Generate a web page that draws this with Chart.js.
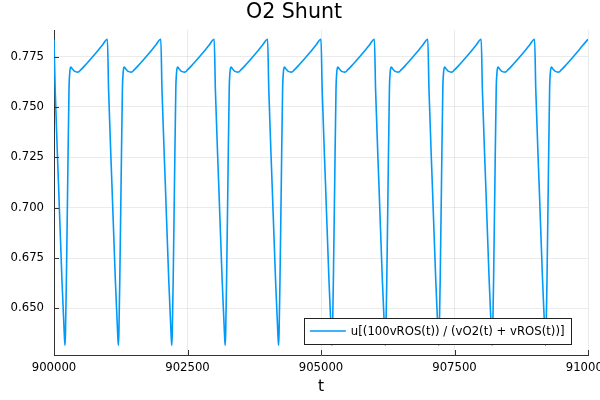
<!DOCTYPE html>
<html lang="en">
<head>
  <meta charset="UTF-8">
  <title>O2 Shunt</title>
  <script src="https://cdn.jsdelivr.net/npm/chart.js"></script>
  <style>
    body {
      margin: 0;
      background-color: #fff;
    }
    #wrap {
      width: 600px;
      height: 400px;
    }
  </style>
</head>
<body>
  <div id="wrap"><canvas id="shuntChart" width="600" height="400"></canvas></div>

  <script>
    // values
    const seriesLabel = 'u[(100vROS(t)) / (vO2(t) + vROS(t))]';

    const tValues = [
      900000, 900022, 900085, 900149, 900180, 900195, 900206, 900215, 900232, 900256, 900281, 900295, 900313, 900340, 900380, 900449, 900500, 900600, 900700, 900800, 900900,
      901000, 901022, 901085, 901149, 901180, 901195, 901206, 901215, 901232, 901256, 901281, 901295, 901313, 901340, 901380, 901449, 901500, 901600, 901700, 901800, 901900,
      902000, 902022, 902085, 902149, 902180, 902195, 902206, 902215, 902232, 902256, 902281, 902295, 902313, 902340, 902380, 902449, 902500, 902600, 902700, 902800, 902900,
      903000, 903022, 903085, 903149, 903180, 903195, 903206, 903215, 903232, 903256, 903281, 903295, 903313, 903340, 903380, 903449, 903500, 903600, 903700, 903800, 903900,
      904000, 904022, 904085, 904149, 904180, 904195, 904206, 904215, 904232, 904256, 904281, 904295, 904313, 904340, 904380, 904449, 904500, 904600, 904700, 904800, 904900,
      905000, 905022, 905085, 905149, 905180, 905195, 905206, 905215, 905232, 905256, 905281, 905295, 905313, 905340, 905380, 905449, 905500, 905600, 905700, 905800, 905900,
      906000, 906022, 906085, 906149, 906180, 906195, 906206, 906215, 906232, 906256, 906281, 906295, 906313, 906340, 906380, 906449, 906500, 906600, 906700, 906800, 906900,
      907000, 907022, 907085, 907149, 907180, 907195, 907206, 907215, 907232, 907256, 907281, 907295, 907313, 907340, 907380, 907449, 907500, 907600, 907700, 907800, 907900,
      908000, 908022, 908085, 908149, 908180, 908195, 908206, 908215, 908232, 908256, 908281, 908295, 908313, 908340, 908380, 908449, 908500, 908600, 908700, 908800, 908900,
      909000, 909022, 909085, 909149, 909180, 909195, 909206, 909215, 909232, 909256, 909281, 909295, 909313, 909340, 909380, 909449, 909500, 909600, 909700, 909800, 909900,
      910000
    ];

    const shuntValues = [
      0.7836, 0.7587, 0.7114, 0.6641, 0.6450, 0.6360, 0.6317, 0.6380, 0.6641, 0.7114, 0.7587, 0.7670, 0.7698, 0.7690, 0.7678, 0.7673, 0.7684, 0.7712, 0.7742, 0.7773, 0.7805,
      0.7836, 0.7587, 0.7114, 0.6641, 0.6450, 0.6360, 0.6317, 0.6380, 0.6641, 0.7114, 0.7587, 0.7670, 0.7698, 0.7690, 0.7678, 0.7673, 0.7684, 0.7712, 0.7742, 0.7773, 0.7805,
      0.7836, 0.7587, 0.7114, 0.6641, 0.6450, 0.6360, 0.6317, 0.6380, 0.6641, 0.7114, 0.7587, 0.7670, 0.7698, 0.7690, 0.7678, 0.7673, 0.7684, 0.7712, 0.7742, 0.7773, 0.7805,
      0.7836, 0.7587, 0.7114, 0.6641, 0.6450, 0.6360, 0.6317, 0.6380, 0.6641, 0.7114, 0.7587, 0.7670, 0.7698, 0.7690, 0.7678, 0.7673, 0.7684, 0.7712, 0.7742, 0.7773, 0.7805,
      0.7836, 0.7587, 0.7114, 0.6641, 0.6450, 0.6360, 0.6317, 0.6380, 0.6641, 0.7114, 0.7587, 0.7670, 0.7698, 0.7690, 0.7678, 0.7673, 0.7684, 0.7712, 0.7742, 0.7773, 0.7805,
      0.7836, 0.7587, 0.7114, 0.6641, 0.6450, 0.6360, 0.6317, 0.6380, 0.6641, 0.7114, 0.7587, 0.7670, 0.7698, 0.7690, 0.7678, 0.7673, 0.7684, 0.7712, 0.7742, 0.7773, 0.7805,
      0.7836, 0.7587, 0.7114, 0.6641, 0.6450, 0.6360, 0.6317, 0.6380, 0.6641, 0.7114, 0.7587, 0.7670, 0.7698, 0.7690, 0.7678, 0.7673, 0.7684, 0.7712, 0.7742, 0.7773, 0.7805,
      0.7836, 0.7587, 0.7114, 0.6641, 0.6450, 0.6360, 0.6317, 0.6380, 0.6641, 0.7114, 0.7587, 0.7670, 0.7698, 0.7690, 0.7678, 0.7673, 0.7684, 0.7712, 0.7742, 0.7773, 0.7805,
      0.7836, 0.7587, 0.7114, 0.6641, 0.6450, 0.6360, 0.6317, 0.6380, 0.6641, 0.7114, 0.7587, 0.7670, 0.7698, 0.7690, 0.7678, 0.7673, 0.7684, 0.7712, 0.7742, 0.7773, 0.7805,
      0.7836, 0.7587, 0.7114, 0.6641, 0.6450, 0.6360, 0.6317, 0.6380, 0.6641, 0.7114, 0.7587, 0.7670, 0.7698, 0.7690, 0.7678, 0.7673, 0.7684, 0.7712, 0.7742, 0.7773, 0.7805,
      0.7836
    ];

    const xTicks = [900000, 902500, 905000, 907500, 910000];
    const yTicks = [0.650, 0.675, 0.700, 0.725, 0.750, 0.775];

    const lineColor = '#009af9';
    const axisColor = '#333';
    const smallFont = { family: 'DejaVu Sans', size: 11.7 };

    // short tick marks pointing into the plot, like the original
    const innerTicks = {
      id: 'innerTicks',
      afterDraw(chart) {
        const { ctx, chartArea, scales } = chart;
        ctx.save();
        ctx.strokeStyle = axisColor;
        ctx.lineWidth = 1;
        ctx.beginPath();
        scales.y.ticks.forEach(t => {
          const y = Math.round(scales.y.getPixelForValue(t.value)) + 0.5;
          ctx.moveTo(chartArea.left, y);
          ctx.lineTo(chartArea.left + 5, y);
        });
        scales.x.ticks.forEach(t => {
          const x = Math.round(scales.x.getPixelForValue(t.value)) + 0.5;
          ctx.moveTo(x, chartArea.bottom);
          ctx.lineTo(x, chartArea.bottom - 5);
        });
        ctx.stroke();
        ctx.restore();
      }
    };

    // boxed legend in the lower right corner
    const boxLegend = {
      id: 'boxLegend',
      afterDraw(chart) {
        const { ctx, chartArea } = chart;
        ctx.save();
        ctx.font = smallFont.size + 'px ' + smallFont.family;
        const textW = ctx.measureText(seriesLabel).width;
        const right = chartArea.right - 17;
        const bottom = chartArea.bottom - 11;
        const w = 6 + 36 + 5 + textW + 6.5;
        const h = 26;
        const left = right - w;
        const top = bottom - h;
        ctx.fillStyle = '#fff';
        ctx.fillRect(left, top, w, h);
        ctx.strokeStyle = '#222';
        ctx.lineWidth = 1;
        ctx.strokeRect(Math.round(left) + 0.5, Math.round(top) + 0.5, Math.round(w), Math.round(h));
        ctx.strokeStyle = lineColor;
        ctx.lineWidth = 1.6;
        ctx.beginPath();
        ctx.moveTo(left + 6, top + h / 2);
        ctx.lineTo(left + 42, top + h / 2);
        ctx.stroke();
        ctx.fillStyle = '#000';
        ctx.textBaseline = 'middle';
        ctx.fillText(seriesLabel, left + 47, top + h / 2 + 0.5);
        ctx.restore();
      }
    };

    const ctx = document.getElementById('shuntChart').getContext('2d');
    const shuntChart = new Chart(ctx, {
      type: 'line',
      data: {
        labels: tValues,
        datasets: [{
          label: seriesLabel,
          data: tValues.map((t, i) => ({ x: t, y: shuntValues[i] })),
          borderColor: lineColor,
          borderWidth: 1.6,
          pointRadius: 0,
          fill: false,
          cubicInterpolationMode: 'monotone'
        }]
      },
      options: {
        responsive: false,
        animation: false,
        layout: { padding: { left: 0, right: 12, top: 0, bottom: 0 } },
        scales: {
          x: {
            type: 'linear',
            min: 900000,
            max: 910000,
            afterBuildTicks: s => { s.ticks = xTicks.map(v => ({ value: v })); },
            afterFit: s => { s.height = 45; s.paddingLeft = 0; s.paddingRight = 0; },
            ticks: {
              color: '#000',
              font: smallFont,
              padding: 6,
              maxRotation: 0,
              callback: v => String(v)
            },
            grid: { color: 'rgba(0,0,0,0.08)', drawTicks: false },
            border: { color: axisColor, width: 1 },
            title: {
              display: true,
              text: 't',
              color: '#000',
              font: { family: 'DejaVu Sans', size: 15.5 },
              padding: { top: 0, bottom: 4 }
            }
          },
          y: {
            min: 0.6269,
            max: 0.7882,
            afterBuildTicks: s => { s.ticks = yTicks.map(v => ({ value: v })); },
            afterFit: s => { s.width = 54; s.paddingTop = 0; s.paddingBottom = 0; },
            ticks: {
              color: '#000',
              font: smallFont,
              padding: 10,
              callback: v => v.toFixed(3)
            },
            grid: { color: 'rgba(0,0,0,0.08)', drawTicks: false },
            border: { color: axisColor, width: 1 }
          }
        },
        plugins: {
          legend: { display: false },
          tooltip: { enabled: false },
          title: {
            display: true,
            text: 'O2 Shunt',
            color: '#000',
            font: { family: 'DejaVu Sans', size: 20.6, weight: 'normal' },
            padding: { top: 0, bottom: 5.3 }
          }
        }
      },
      plugins: [innerTicks, boxLegend]
    });
  </script>
</body>
</html>
